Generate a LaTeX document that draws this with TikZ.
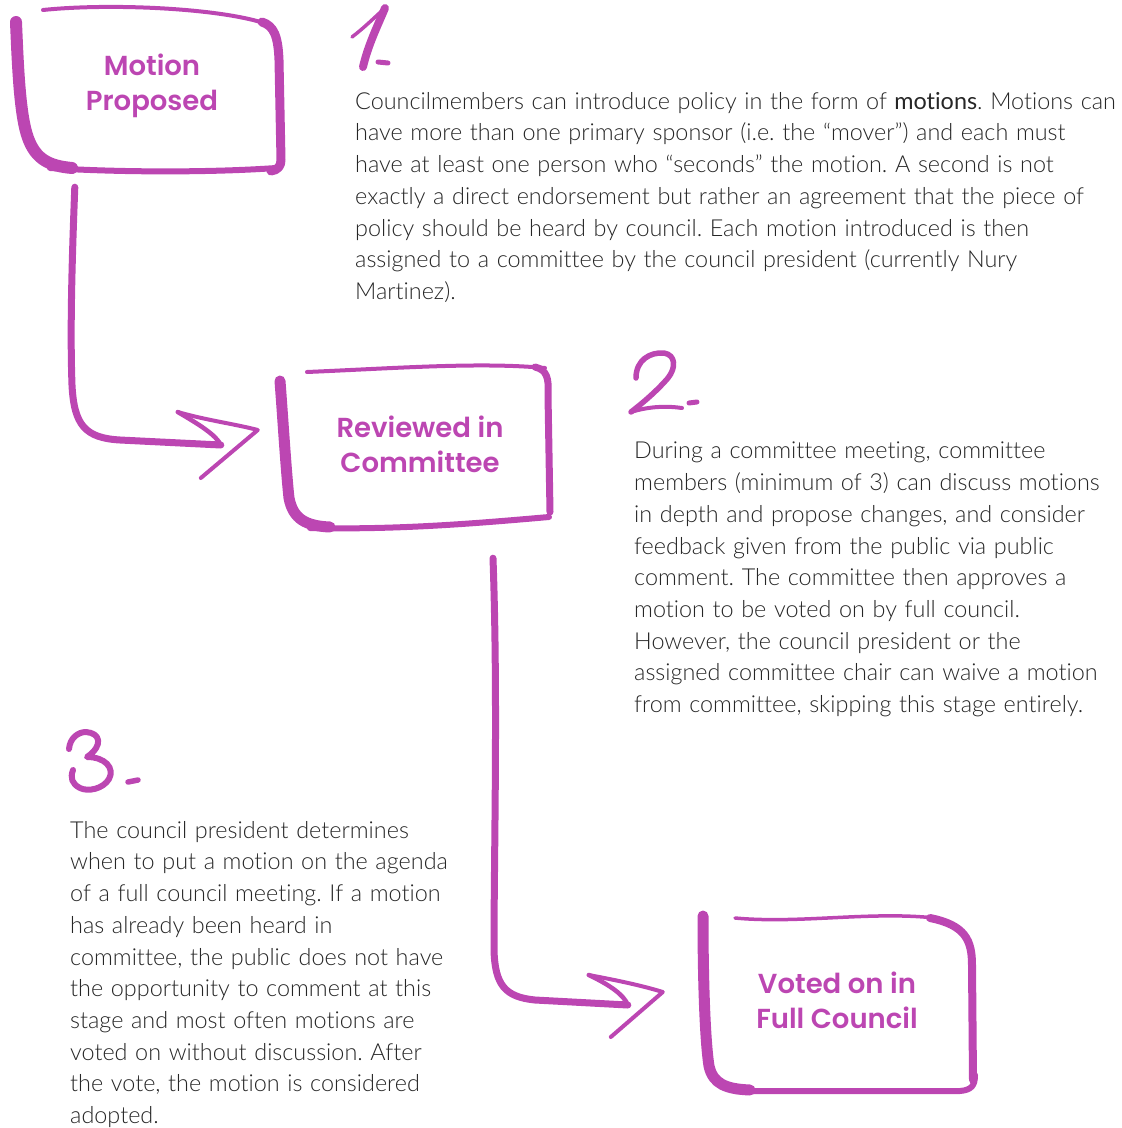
\documentclass[tikz,border=0pt]{standalone}
\usepackage{fontspec}
\usetikzlibrary{calc}
\newfontfamily\bodyfont{Lato Light}[BoldFont=Lato,Ligatures=CommonOff,WordSpace=1.2]
\newfontfamily\boxfont{Poppins SemiBold}
\definecolor{ink}{RGB}{188,70,178}
\definecolor{copytext}{RGB}{38,38,38}
\frenchspacing
\begin{document}
\begin{tikzpicture}[x=1pt,y=-1pt,
  brush/.style={draw=ink,line cap=round,line join=round},
  stage/.style={text=ink,font=\boxfont\fontsize{27.5}{35}\selectfont,align=center,inner sep=0pt,minimum width=270pt},
  blurb/.style={text=copytext,font=\bodyfont\fontsize{23.4}{31.7}\selectfont,align=left,anchor=north west,inner sep=0pt},
  digit/.style={brush,line width=5.5}]
\useasboundingbox (0,0) rectangle (1122,1128);

% stages
\node[stage,minimum height=164pt] (m1) at (152,86) {Motion\\Proposed};
\node[stage,minimum height=160pt] (m2) at (420,444) {Reviewed in\\Committee};
\node[stage,minimum height=176pt] (m3) at (837,1000) {Voted on in\\Full Council};

% hand-drawn frame: Motion Proposed
\draw[brush,line width=12] (16,22) .. controls (18,70) and (20,116) .. (28,138) .. controls (36,160) and (50,166) .. (72,168);
\draw[brush,line width=6] (50,168) .. controls (130,173) and (220,172) .. (276,168);
\draw[brush,line width=9] (262,22) .. controls (274,26) and (278,36) .. (279,60) -- (281,160) .. controls (281,166) and (278,170) .. (271,171);
\draw[brush,line width=4] (43,10) .. controls (110,3) and (220,8) .. (267,24);

% hand-drawn frame: Reviewed in Committee
\draw[brush,line width=11] (280,381) .. controls (283,420) and (286,470) .. (289,498) .. controls (293,519) and (306,526) .. (330,527);
\draw[brush,line width=6] (310,528) .. controls (400,530) and (480,523) .. (549,517);
\draw[brush,line width=7] (535,367) .. controls (547,370) and (549,378) .. (548,395) -- (550,512);
\draw[brush,line width=4] (307,372) .. controls (400,368) and (480,362) .. (545,368);

% hand-drawn frame: Voted on in Full Council
\draw[brush,line width=11] (703,916) .. controls (703,980) and (705,1040) .. (709,1066) .. controls (713,1084) and (726,1089) .. (750,1090);
\draw[brush,line width=6] (735,1091) -- (960,1091) .. controls (972,1090) and (975,1085) .. (975,1075);
\draw[brush,line width=8] (930,918) .. controls (965,925) and (972,940) .. (972,965) -- (973,1080);
\draw[brush,line width=3.5] (735,918) .. controls (800,924) and (870,911) .. (935,918);

% connector: Motion Proposed -> Reviewed in Committee
\coordinate (c1s) at ($(m1.south west)+(58,19)$);
\coordinate (c1e) at ($(m2.west)+(-64,1)$);
\coordinate (c1t) at ($(m2.west)+(-27,-14)$);
\coordinate (c1a) at ($(m2.west)+(-107,-32)$);
\coordinate (c1b) at ($(m2.west)+(-84,34)$);
\draw[brush,line width=7] (c1s) .. controls (72,260) and (70,330) .. (72,385) .. controls (74,425) and (85,438) .. (120,440) -- (c1e);
\draw[brush,line width=4.5] (c1a) .. controls (200,425) and (216,435) .. (c1e);
\draw[brush,line width=4] (c1a) .. controls (205,420) and (235,424) .. (c1t) -- (c1b);

% connector: Reviewed in Committee -> Voted on in Full Council
\coordinate (c2s) at ($(m2.south)+(73,34)$);
\coordinate (c2e) at ($(m3.west)+(-74,5)$);
\coordinate (c2t) at ($(m3.west)+(-39,-8)$);
\coordinate (c2a) at ($(m3.west)+(-113,-25)$);
\coordinate (c2b) at ($(m3.west)+(-91,37)$);
\draw[brush,line width=7] (c2s) .. controls (498,700) and (494,850) .. (494,950) .. controls (495,985) and (505,997) .. (535,1000) -- (c2e);
\draw[brush,line width=4.5] (c2a) .. controls (610,985) and (624,995) .. (c2e);
\draw[brush,line width=4] (c2a) .. controls (615,980) and (640,985) .. (c2t) -- (c2b);

% step numbers
\draw[brush,line width=3.5] (352,37) .. controls (364,28) and (376,16) .. (385,8);
\draw[digit,line width=8] (385,8) .. controls (378,25) and (368,45) .. (363,67);
\draw[digit,line width=5] (378,62) -- (388,63);

\draw[digit] (636,378) .. controls (636,360) and (650,352) .. (664,353) .. controls (676,355) and (676,368) .. (668,378) .. controls (655,393) and (640,405) .. (631,412);
\draw[digit,line width=4] (631,412) .. controls (650,406) and (668,406) .. (682,408);
\draw[digit,line width=5] (689,403) -- (697,402);

\draw[digit,line width=6] (69,749) .. controls (70,738) and (78,732) .. (86,732) .. controls (100,733) and (104,745) .. (87,757) .. controls (105,757) and (115,768) .. (109,779) .. controls (103,789) and (88,792) .. (80,788) .. controls (72,784) and (70,778) .. (73,770);
\draw[digit,line width=5.5] (128,782) -- (138,780);

% descriptions
\node[blurb] (t1) at (355,92) {Councilmembers can introduce policy in the form of \textbf{motions}. Motions can\\
have more than one primary sponsor (i.e. the “mover”) and each must\\
have at least one person who “seconds” the motion. A second is not\\
exactly a direct endorsement but rather an agreement that the piece of\\
policy should be heard by council. Each motion introduced is then\\
assigned to a committee by the council president (currently Nury\\
Martinez).};

\node[blurb] (t2) at (634,442) {During a committee meeting, committee\\
members (minimum of 3) can discuss motions\\
in depth and propose changes, and consider\\
feedback given from the public via public\\
comment. The committee then approves a\\
motion to be voted on by full council.\\
However, the council president or the\\
assigned committee chair can waive a motion\\
from committee, skipping this stage entirely.};

\node[blurb] (t3) at (70,821) {The council president determines\\
when to put a motion on the agenda\\
of a full council meeting. If a motion\\
has already been heard in\\
committee, the public does not have\\
the opportunity to comment at this\\
stage and most often motions are\\
voted on without discussion. After\\
the vote, the motion is considered\\
adopted.};
\end{tikzpicture}
\end{document}
